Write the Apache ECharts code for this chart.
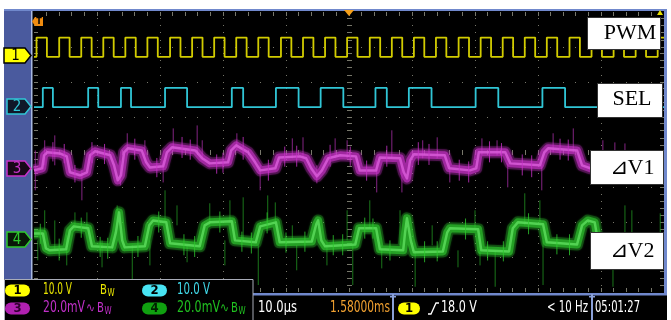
<!DOCTYPE html>
<html>
<head>
<meta charset="utf-8">
<script src="https://cdn.jsdelivr.net/npm/echarts@6/dist/echarts.min.js"></script>
<style>
  html, body { margin: 0; padding: 0; background: #fff; }
  #scope { width: 671px; height: 320px; }
</style>
</head>
<body>
<div id="scope"></div>
<script>
// ---- Time base: 10 µs/div, trigger point at t = 0 (screen centre) ----
const timeRange = [-50, 50];
const timePerDiv = 10;

// ---- Channel setup: units per division, ground marker position (divisions from centre) ----
const ch1Scale = 10, ch1Offset = 2.72;   // PWM  [V]
const ch2Scale = 10, ch2Offset = 1.28;   // SEL  [V]
const ch3Scale = 20, ch3Offset = -0.47;  // ΔV1  [mV]
const ch4Scale = 20, ch4Offset = -2.5;   // ΔV2  [mV]

// ---- CH1 PWM: rising edges [µs], pulse width [µs], high level [V] ----
const pwmRise = [-49.6, -46.0, -42.5, -39.0, -35.5, -32.0, -28.4, -24.9, -21.4, -17.9,
                 -14.4, -10.8, -7.3, -3.8, -0.3, 3.3, 6.8, 10.3, 13.8, 17.4,
                 20.9, 24.4, 27.9, 31.4, 35.0, 38.5, 42.0, 45.5, 49.0];
const pwmWidth = 1.65;
const pwmHigh = 5.5;

// ---- CH2 SEL: pulses [start, end] in µs, high level [V] ----
const selPulses = [[-48.6, -47.0], [-41.4, -39.8], [-36.2, -34.6], [-29.2, -25.7],
                   [-18.6, -16.8], [-11.6, -8.0], [-4.5, -0.9], [4.2, 6.0],
                   [9.5, 13.1], [20.1, 23.7], [30.7, 34.3]];
const selHigh = 5.5;

// ---- CH3 ΔV1: averaged trace [µs, mV] ----
const v1Trace = [[-50, -1.1], [-48.7, 0.1], [-48.4, 7.5], [-47.9, 9.2], [-45.9, 8.6], [-44.8, 6.9],
  [-44.3, -2.2], [-42.7, -3.9], [-41.6, -2.2], [-41.1, 7.5], [-40.3, 9.8], [-37.9, 7.5],
  [-37.3, 1.8], [-36.7, -6.8], [-36.2, -3.9], [-35.7, 9.2], [-35.1, 11.5], [-32.9, 10.3],
  [-32.2, 3.5], [-31.6, 0.6], [-29.5, 1.2], [-28.9, 9.2], [-28.1, 12.1], [-24.4, 10.3],
  [-23.3, 5.8], [-22.1, 2.9], [-19.2, 3.5], [-18.7, 10.3], [-17.9, 13.2], [-16.0, 9.2],
  [-14.9, 3.5], [-14.1, -1.1], [-11.7, 0.1], [-11.1, 6.3], [-7.8, 6.9], [-6.8, 5.8],
  [-6.0, 0.1], [-5.1, -4.5], [-4.3, -1.1], [-3.3, 5.8], [-1.4, 7.5], [1.1, 6.9],
  [1.7, -1.1], [4.3, -1.1], [4.9, 6.3], [8.1, 5.8], [8.7, -2.2], [9.2, -5.7],
  [9.7, 4.6], [10.3, 8.1], [15.2, 7.5], [15.9, 0.1], [19.2, -1.1], [20.2, 0.1],
  [20.6, 9.2], [24.8, 9.2], [25.6, 2.9], [30.3, 1.8], [31.0, 9.2], [31.6, 11.5],
  [36.2, 10.3], [37.0, 1.8], [38.3, 0.1], [50, 0.1]];

// ---- CH3 ΔV1: long noise spikes [µs, low mV, high mV] ----
const v1Spikes = [[-49.8, -12.5, 10.3], [-48.3, 1.8, 16.1], [-46.7, 1.8, 18.9], [-42.4, -18.2, -1.1],
  [-36.3, -9.7, 4.6], [-35.2, 7.5, 20.1], [-32.4, 7.5, 16.1], [-29.5, -8.0, 4.6],
  [-27.9, 10.3, 22.9], [-24.1, 10.3, 24.6], [-23.3, 4.6, 16.1], [-17.8, 10.3, 20.1],
  [-14.1, -12.5, 1.8], [-9.0, 5.8, 17.2], [-7.3, 5.8, 17.8], [-5.1, -8.5, 1.8],
  [-2.2, 5.8, 17.2], [-0.3, 5.8, 16.1], [4.4, -13.7, 4.6], [6.8, 5.8, 21.8],
  [8.4, -13.7, 1.8], [11.7, 5.8, 16.1], [14.0, 5.8, 17.8], [16.0, -8.0, 4.6],
  [21.1, 7.5, 17.2], [23.5, 7.5, 16.1], [25.2, -10.8, 2.9], [30.6, -12.5, 2.9],
  [32.4, 9.2, 20.1], [35.6, 9.2, 22.9], [40.3, 10.3, 16.1], [42.2, 10.3, 14.9], [43.8, 10.3, 14.3]];

// ---- CH3 ΔV1: short noise hairs around the trace [µs, low mV, high mV] ----
const v1Hairs = [[-47.0, 4.0, 15.0], [-45.2, 3.0, 14.0], [-43.5, -8.0, 2.0], [-40.8, 3.0, 15.0],
  [-38.8, 2.5, 14.0], [-34.0, 5.0, 17.0], [-30.5, -5.0, 6.0], [-26.5, 6.0, 18.0],
  [-25.2, 5.0, 16.5], [-21.0, -3.0, 8.0], [-20.0, -2.5, 9.0], [-16.8, 5.0, 18.0],
  [-12.8, -7.0, 5.0], [-10.2, 1.0, 12.5], [-8.3, 1.0, 13.0], [-3.0, 1.0, 13.5],
  [0.2, 1.5, 12.5], [2.8, -7.0, 4.5], [6.0, 1.0, 13.0], [11.0, 2.0, 15.0],
  [12.7, 2.0, 14.0], [17.5, -7.0, 5.0], [19.0, -8.0, 4.0], [22.3, 3.5, 15.5],
  [24.2, 3.5, 14.5], [27.5, -4.0, 8.0], [29.0, -5.0, 7.5], [33.5, 5.0, 17.0], [34.8, 4.5, 16.5]];

// ---- CH4 ΔV2: averaged trace [µs, mV] ----
const v2Trace = [[-50, 3.5], [-48.6, 3.5], [-48.1, -5.1], [-47.5, -6.2], [-44.9, -5.6], [-44.3, 5.2],
  [-43.7, 7.5], [-41.4, 6.4], [-40.8, -3.9], [-37.6, -4.5], [-37.0, 4.1], [-36.5, 15.5],
  [-36.0, -0.5], [-35.6, -4.5], [-32.4, -3.9], [-31.7, 8.1], [-31.1, 10.9], [-29.0, 9.8],
  [-28.4, -2.2], [-23.7, -3.9], [-22.9, 8.1], [-22.1, 9.8], [-18.6, 10.4], [-18.1, -0.5],
  [-14.8, -1.6], [-14.1, 7.5], [-11.6, 9.8], [-11.0, -1.6], [-5.9, -1.1], [-5.2, 8.7],
  [-4.9, 10.9], [-4.4, -0.5], [-3.8, -3.9], [1.0, -2.8], [1.6, 6.4], [4.3, 6.4],
  [4.9, -5.6], [8.6, -6.2], [8.9, 4.1], [9.2, 12.1], [9.8, -0.5], [10.3, -7.3],
  [14.9, -6.8], [15.6, 4.1], [16.0, 6.4], [20.5, 5.8], [21.0, -6.2], [25.4, -6.8],
  [26.0, 6.4], [26.8, 9.8], [30.8, 8.7], [31.4, -1.6], [36.2, -2.8], [37.0, 8.1],
  [37.9, 10.9], [39.0, 9.8], [39.6, -2.8], [50, -2.8]];

// ---- CH4 ΔV2: long noise spikes [µs, low mV, high mV] ----
const v2Spikes = [[-49.4, -11.9, -0.5], [-48.3, -0.5, 16.7], [-46.7, -6.2, 10.9], [-44.8, -14.8, 2.4],
  [-43.5, 5.2, 15.5], [-41.6, 5.2, 15.5], [-39.2, -15.9, -0.5], [-36.8, 8.1, 19.5],
  [-34.4, -26.0, -3.3], [-31.6, -14.8, -0.5], [-29.2, 9.8, 28.1], [-27.3, 8.1, 19.5],
  [-25.7, -13.0, -3.3], [-22.1, 8.1, 20.7], [-19.7, -14.8, -0.5], [-18.9, 9.8, 22.4],
  [-16.8, -0.5, 24.1], [-14.4, -26.0, -3.3], [-12.9, 8.1, 25.2], [-11.7, 8.1, 21.2],
  [-9.0, -0.5, 8.1], [-8.3, -17.6, -3.3], [-3.5, -14.8, -0.5], [-0.3, -0.5, 16.7],
  [0.6, -26.0, -3.3], [3.3, 6.4, 22.4], [5.2, -16.5, -3.3], [8.1, -3.3, 16.7],
  [10.5, -27.0, -6.2], [13.2, -3.3, 8.1], [17.3, -15.9, -6.2], [20.0, 6.4, 16.7],
  [20.8, -14.8, -3.3], [23.2, -27.0, -6.2], [27.9, 8.1, 26.4], [30.3, 9.8, 22.4],
  [30.8, -26.0, -0.5], [41.9, -27.0, -10.0], [43.8, -2.0, 19.5], [44.9, -2.0, 16.7], [49.4, -2.0, 15.0]];

// ---- CH4 ΔV2: short noise hairs around the trace [µs, low mV, high mV] ----
const v2Hairs = [[-49.0, -2.5, 9.0], [-46.0, -12.0, 0.5], [-42.5, 1.0, 12.5], [-39.5, -10.0, 1.5],
  [-38.3, -11.0, 1.0], [-33.5, -10.0, 2.0], [-30.2, 4.0, 16.0], [-26.2, -9.0, 3.0],
  [-24.5, -10.0, 2.0], [-20.5, 4.0, 16.0], [-17.0, -7.0, 4.5], [-15.5, -8.0, 4.0],
  [-13.0, 3.5, 15.5], [-10.0, -7.5, 4.0], [-7.0, -7.0, 4.5], [-2.5, -9.0, 2.5],
  [-1.0, -9.0, 3.0], [2.5, 0.5, 12.5], [3.8, 0.5, 12.0], [6.5, -12.0, -0.5],
  [12.0, -13.0, -1.0], [14.0, -12.5, -1.0], [18.5, 0.0, 12.0], [22.0, -12.0, -1.0],
  [24.5, -12.5, -1.0], [28.5, 3.0, 15.0], [33.0, -8.5, 3.0], [35.0, -9.0, 3.0]];

// ---- Labels ----
const traceNames = ['PWM', 'SEL', '⊿V1', '⊿V2'];
const chVolts = ['10.0 V', '10.0 V', '20.0mV', '20.0mV'];
const horizScale = '10.0µs';
const horizPos = '1.58000ms';
const trigLevel = '18.0 V';
const trigFreq = '< 10 Hz';
const clock = '05:01:27';

// ---- Colours ----
const cYellow = '#d2cc00', cCyan = '#30c6d6', cMagenta = '#c832c8', cGreen = '#2ec82e';
const gridColor = '#77776a';
const scopeFont = '"Liberation Sans Narrow", "DejaVu Sans Condensed", "Liberation Sans", sans-serif';
const serifFont = '"Liberation Serif", "DejaVu Serif", serif';

// Build a two-level step trace from [start, end] pulses
function pulseTrain(pulses, high) {
  const pts = [[timeRange[0], 0]];
  pulses.forEach(([a, b]) => { pts.push([a, 0], [a, high], [b, high], [b, 0]); });
  pts.push([timeRange[1], 0]);
  return pts;
}
const pwmData = pulseTrain(pwmRise.map(r => [r, r + pwmWidth]), pwmHigh);
const selData = pulseTrain(selPulses, selHigh);

// Each channel gets its own value axis spanning the 8 screen divisions
function chAxis(scale, offset) {
  return { type: 'value', min: (-4 - offset) * scale, max: (4 - offset) * scale, show: false };
}

function spikeSeries(data, yIdx, color, opacity, z) {
  return {
    type: 'custom', xAxisIndex: 0, yAxisIndex: yIdx, data, silent: true, clip: true, z,
    encode: { x: 0, y: [1, 2] },
    renderItem(params, api) {
      const a = api.coord([api.value(0), api.value(1)]);
      const b = api.coord([api.value(0), api.value(2)]);
      return { type: 'line', shape: { x1: a[0], y1: a[1], x2: b[0], y2: b[1] },
               style: { stroke: color, lineWidth: 1, opacity } };
    }
  };
}

function bandSeries(data, yIdx, color, core) {
  const base = { type: 'line', xAxisIndex: 0, yAxisIndex: yIdx, data, symbol: 'none', silent: true };
  return [
    { ...base, z: 4, lineStyle: { color, width: 12, opacity: 0.25, join: 'round', shadowColor: color, shadowBlur: 2 } },
    { ...base, z: 5, lineStyle: { color, width: 8, opacity: 0.65, join: 'round' } },
    { ...base, z: 6, lineStyle: { color: core, width: 2.5, opacity: 0.85, join: 'round' } }
  ];
}

// Graticule: dotted divisions, centre cross with minor ticks, edge ticks
const graticule = {
  type: 'custom', xAxisIndex: 0, yAxisIndex: 4, data: [[0, 0]], silent: true, clip: false, z: 1,
  renderItem(params, api) {
    const kids = [];
    const mark = (t, d, w, h, dx, dy) => {
      const p = api.coord([t, d]);
      kids.push({ type: 'rect',
        shape: { x: Math.round(p[0] - w / 2 + (dx || 0)), y: Math.round(p[1] - h / 2 + (dy || 0)), width: w, height: h },
        style: { fill: gridColor } });
    };
    for (let i = 1; i < 10; i++) {
      const t = timeRange[0] + i * timePerDiv;
      for (let j = 1; j < 40; j++) {
        const d = -4 + j * 0.2;
        if (i === 5) mark(t, d, 5, 1); else mark(t, d, 1, 1);
      }
    }
    for (let k = 1; k < 8; k++) {
      const d = -4 + k;
      for (let j = 1; j < 50; j++) {
        const t = timeRange[0] + j * timePerDiv / 5;
        if (k === 4) mark(t, d, 1, 5); else mark(t, d, 1, 1);
      }
    }
    for (let j = 1; j < 50; j++) {
      const t = timeRange[0] + j * timePerDiv / 5;
      mark(t, 4, 1, 4, 0, 2);
      mark(t, -4, 1, 4, 0, -2);
    }
    for (let j = 1; j < 40; j++) {
      const d = -4 + j * 0.2;
      mark(timeRange[0], d, 4, 1, 2, 0);
      mark(timeRange[1], d, 4, 1, -2, 0);
    }
    return { type: 'group', children: kids };
  }
};

// ---- Screen furniture (frame, markers, readouts); every element carries its own z ----
const frameBlue = '#4a5a9e', edgeBlue = '#7088cc';
const measureCtx = document.createElement('canvas').getContext('2d');
function textWidth(text, font) { measureCtx.font = font; return measureCtx.measureText(text).width; }

// Readout text squeezed horizontally to the instrument's narrow font width
function fitText(x, y, text, width, fill, size) {
  const font = (size || 15) + 'px ' + scopeFont;
  const s = Math.min(1, width / textWidth(text, font));
  return { type: 'text', z: 111, x, y, scaleX: s, style: { text, fill, font, verticalAlign: 'middle' } };
}
function bwMark(x, y, fill) {
  return [
    { type: 'text', z: 111, x, y, scaleX: 0.8, style: { text: 'B', fill, font: '14px ' + scopeFont, verticalAlign: 'middle' } },
    { type: 'text', z: 111, x: x + 7.5, y: y + 3, scaleX: 0.8, style: { text: 'W', fill, font: '10px ' + scopeFont, verticalAlign: 'middle' } }
  ];
}
function chMarker(y, label, fill, stroke, textColor, x0) {
  return [
    { type: 'polygon', z: 110, shape: { points: [[x0, y - 7.5], [25, y - 7.5], [31, y], [25, y + 7.5], [x0, y + 7.5]] },
      style: { fill, stroke, lineWidth: 1.5 } },
    { type: 'text', z: 111, x: (x0 + 25) / 2 + 1, y: y + 0.5, style: { text: label, fill: textColor, font: '15px ' + scopeFont, align: 'center', verticalAlign: 'middle' } }
  ];
}
function pill(x, y, w, label, fill, textColor) {
  return [
    { type: 'rect', z: 110, shape: { x, y: y - 6, width: w, height: 12, r: 6 }, style: { fill } },
    { type: 'text', z: 111, x: x + w / 2, y: y + 0.5, style: { text: label, fill: textColor, font: 'bold 13px ' + scopeFont, align: 'center', verticalAlign: 'middle' } }
  ];
}
function nameBox(x, y, w, h, text, tx, ty) {
  return [
    { type: 'rect', z: 120, shape: { x: x + 0.5, y: y + 0.5, width: w, height: h }, style: { fill: '#fff', stroke: '#333', lineWidth: 1 } },
    { type: 'text', z: 121, x: tx, y: ty, style: { text, fill: '#000', font: '22px ' + serifFont, align: 'center', verticalAlign: 'middle' } }
  ];
}
function separator(x) {
  return [
    { type: 'rect', z: 110, shape: { x: x - 1, y: 294, width: 2, height: 26 }, style: { fill: '#8aa0d8' } },
    { type: 'rect', z: 110, shape: { x: x - 3, y: 296, width: 6, height: 1.5 }, style: { fill: '#8aa0d8' } }
  ];
}

const graphics = [
  // outer margins
  { type: 'rect', z: 99, shape: { x: 0, y: 0, width: 671, height: 9 }, style: { fill: '#fff' } },
  { type: 'rect', z: 99, shape: { x: 0, y: 0, width: 4, height: 320 }, style: { fill: '#fff' } },
  { type: 'rect', z: 99, shape: { x: 667, y: 0, width: 4, height: 320 }, style: { fill: '#fff' } },
  // side bar and edges
  { type: 'rect', z: 99, shape: { x: 4, y: 9, width: 28, height: 270 }, style: { fill: frameBlue } },
  { type: 'rect', z: 99, shape: { x: 31, y: 10, width: 1.5, height: 269 }, style: { fill: '#a8b8e0' } },
  { type: 'rect', z: 99, shape: { x: 4, y: 9, width: 663, height: 2 }, style: { fill: edgeBlue } },
  { type: 'rect', z: 99, shape: { x: 664, y: 9, width: 3, height: 287 }, style: { fill: edgeBlue } },
  // bottom readout areas
  { type: 'rect', z: 100, shape: { x: 253, y: 295, width: 414, height: 25 }, style: { fill: '#000' } },
  { type: 'rect', z: 100, shape: { x: 253, y: 293, width: 414, height: 2.5 }, style: { fill: edgeBlue } },
  { type: 'rect', z: 100, shape: { x: 4.5, y: 279.5, width: 248.5, height: 45 }, style: { fill: '#000', stroke: '#a8acb8', lineWidth: 1 } },
  // trigger markers
  { type: 'polygon', z: 100, shape: { points: [[344, 10], [354, 10], [349, 16]] }, style: { fill: '#f5a01a' } },
  { type: 'polygon', z: 100, shape: { points: [[657, 15], [663, 15], [660, 10]] }, style: { fill: '#e6e000' } },
  { type: 'polygon', z: 100, shape: { points: [[32, 21.5], [35, 17], [43, 17], [43, 26], [35, 26]] }, style: { fill: '#f08c10' } },
  { type: 'text', z: 101, x: 39, y: 22, style: { text: 'T', fill: '#000', font: 'bold 9px ' + scopeFont, align: 'center', verticalAlign: 'middle' } },
  // channel ground markers
  ...chMarker(55.5, '1', '#ffff00', '#000', '#000', 4),
  ...chMarker(106.5, '2', '#101828', cCyan, cCyan, 7),
  ...chMarker(168.5, '3', '#180818', cMagenta, cMagenta, 7),
  ...chMarker(239.5, '4', '#081808', cGreen, cGreen, 7),
  // channel readouts
  ...pill(5, 290.5, 25, '1', '#ffff00', '#000'),
  fitText(43, 290.5, chVolts[0], 29, '#e8e400'),
  ...bwMark(100, 290.5, '#e8e400'),
  ...pill(142, 290.5, 25, '2', '#48e4f4', '#000'),
  fitText(177, 290.5, chVolts[1], 33, '#40d8e8'),
  ...pill(5, 308.5, 25, '3', '#b020b0', '#300030'),
  fitText(43, 308.5, chVolts[2], 42, '#c030c8'),
  fitText(86, 308.5, '∿', 9, '#c030c8', 13),
  ...bwMark(97, 308.5, '#c030c8'),
  ...pill(142, 308.5, 25, '4', '#10a010', '#002000'),
  fitText(177, 308.5, chVolts[3], 43, '#20c020'),
  fitText(220, 308.5, '∿', 9, '#20c020', 13),
  ...bwMark(231, 308.5, '#20c020'),
  // horizontal / trigger readouts
  fitText(258, 308, horizScale, 39, '#fff'),
  fitText(330, 308, horizPos, 60, '#f0a030'),
  ...separator(393),
  ...pill(398, 308.5, 22, '1', '#ffff00', '#000'),
  { type: 'polyline', z: 111, shape: { points: [[428, 314], [431, 314], [436, 303], [439, 303]] }, style: { stroke: '#fff', lineWidth: 1.3, fill: null } },
  fitText(441, 308, trigLevel, 36, '#fff'),
  fitText(547, 308, trigFreq, 41, '#fff'),
  ...separator(592),
  fitText(595, 308, clock, 45, '#fff'),
  // trace name boxes
  ...nameBox(587, 17, 73, 32, traceNames[0], 630, 33),
  ...nameBox(597, 83, 65, 34, traceNames[1], 632, 99),
  ...nameBox(590, 150, 73, 34, traceNames[2], 632, 168),
  ...nameBox(590, 232, 73, 37, traceNames[3], 632, 251)
];

const chart = echarts.init(document.getElementById('scope'), null, { renderer: 'canvas' });
chart.setOption({
  backgroundColor: '#000',
  animation: false,
  grid: { left: 34, top: 12, width: 630, height: 280 },
  xAxis: { type: 'value', min: timeRange[0], max: timeRange[1], interval: timePerDiv, show: false },
  yAxis: [chAxis(ch1Scale, ch1Offset), chAxis(ch2Scale, ch2Offset), chAxis(ch3Scale, ch3Offset),
          chAxis(ch4Scale, ch4Offset), { type: 'value', min: -4, max: 4, interval: 1, show: false }],
  series: [
    graticule,
    { type: 'line', xAxisIndex: 0, yAxisIndex: 0, data: pwmData, symbol: 'none', silent: true, z: 3,
      lineStyle: { color: cYellow, width: 1.8 } },
    { type: 'line', xAxisIndex: 0, yAxisIndex: 1, data: selData, symbol: 'none', silent: true, z: 3,
      lineStyle: { color: cCyan, width: 1.8 } },
    spikeSeries(v1Spikes, 2, '#9a2a9a', 0.85, 3),
    ...bandSeries(v1Trace, 2, cMagenta, '#d85ad8'),
    spikeSeries(v1Hairs, 2, cMagenta, 0.8, 7),
    spikeSeries(v2Spikes, 3, '#1e8a1e', 0.85, 3),
    ...bandSeries(v2Trace, 3, cGreen, '#5ada5a'),
    spikeSeries(v2Hairs, 3, cGreen, 0.8, 7)
  ],
  graphic: graphics
});
</script>
</body>
</html>
